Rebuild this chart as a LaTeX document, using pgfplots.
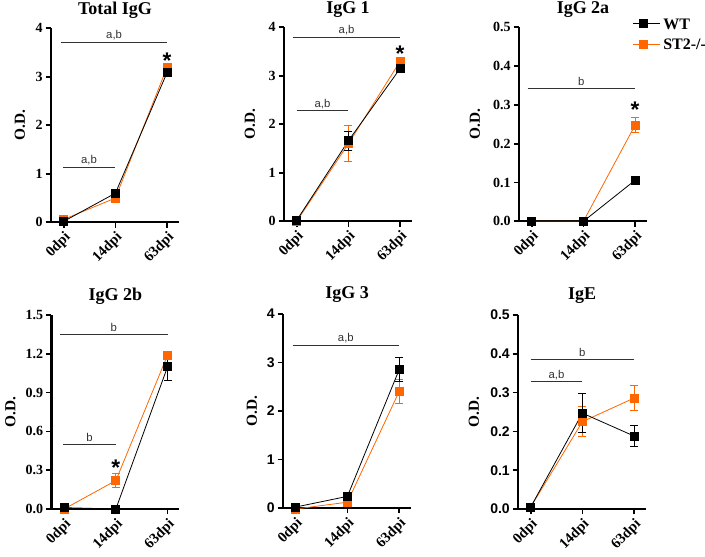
\documentclass[border=0pt]{standalone}
\usepackage{fontspec}
\setmainfont{Liberation Serif}
\newfontfamily\arial{Liberation Sans}
\usepackage{pgfplots}
\pgfplotsset{compat=1.18}
\usetikzlibrary{arrows.meta}
\definecolor{org}{RGB}{255,102,0}
\definecolor{brk}{RGB}{50,50,50}

\pgfplotsset{
 panel/.style={
  scale only axis, width=96pt, height=145.5pt, anchor=south west,
  axis x line=bottom, axis y line=left, axis line style={-, line width=1.6pt},
  xmin=-0.245, xmax=2.23, ymin=0,
  xtick={0,1,2}, xticklabels={0dpi,14dpi,63dpi},
  tick align=outside, major tick length=4pt, tick style={line width=1.3pt, black},
  xticklabel style={rotate=45, anchor=north east, font=\bfseries\fontsize{11}{11}\selectfont, inner sep=1.5pt},
  yticklabel style={font=\bfseries\fontsize{10.5}{10}\selectfont, inner sep=2pt},
  /pgf/number format/assume math mode=true,
  ylabel={O.D.}, ylabel style={font=\bfseries\fontsize{11.5}{12}\selectfont, at={(axis description cs:-0.25,0.5)}, anchor=center},
  every axis title/.style={font=\bfseries\fontsize{13.5}{14}\selectfont, at={(axis description cs:0.5,1)}, anchor=center, yshift=13.5pt},
  clip=false,
 },
 dec/.style={/pgf/number format/fixed, /pgf/number format/fixed zerofill, /pgf/number format/precision=1},
 wt/.style={black, line width=0.6pt, mark=square*, mark size=3pt, mark options={black, solid},
   error bars/.cd, y dir=both, y explicit, error bar style={line width=0.8pt, black}, error mark options={rotate=90, mark size=3pt, line width=0.8pt, black}},
 st/.style={org, line width=0.6pt, mark=square*, mark size=3pt, mark options={org, solid},
   error bars/.cd, y dir=both, y explicit, error bar style={line width=0.8pt, org}, error mark options={rotate=90, mark size=3pt, line width=0.8pt, org}},
 brk/.style={draw=brk, line width=1pt, {Bar[width=5pt]}-{Bar[width=5pt]}},
}
\newcommand\blab{\arial\fontsize{8.5}{9}\selectfont}
\newcommand\starfont{\arial\bfseries\fontsize{17}{17}\selectfont}

\begin{document}
\begin{tikzpicture}
\useasboundingbox (0,0) rectangle (528.75pt,417pt);

% Total IgG
\begin{axis}[panel, at={(38.25pt,250.25pt)}, ymax=4, ytick={0,1,2,3,4}, title={Total IgG},
  ylabel style={at={(axis description cs:-0.242,0.5)}}]
\addplot[st] coordinates {(0,0.06) (1,0.5) (2,3.2)};
\addplot[wt] coordinates {(0,0.02) (1,0.6) (2,3.09)};
\draw[brk] (axis cs:-0.05,3.72) -- (axis cs:2,3.72) node[midway, above=0pt, inner sep=1.5pt, text=brk, font=\blab] {a,b};
\draw[brk] (axis cs:-0.02,1.14) -- (axis cs:1,1.14) node[midway, above=0pt, inner sep=1.5pt, text=brk, font=\blab] {a,b};
\node[font=\starfont, anchor=base, yshift=-9.5pt] at (axis cs:2,3.43) {*};
\end{axis}

% IgG 1
\begin{axis}[panel, at={(213pt,251pt)}, ymax=4, ytick={0,1,2,3,4}, title={IgG 1},
  ylabel style={at={(axis description cs:-0.266,0.5)}}]
\addplot[st] coordinates {(0,0.0) (1,1.6) +- (0,0.37) (2,3.3)};
\addplot[wt] coordinates {(0,0.02) (1,1.66) +- (0,0.2) (2,3.15)};
\draw[brk] (axis cs:-0.07,3.8) -- (axis cs:2,3.8) node[midway, above=0pt, inner sep=1.5pt, text=brk, font=\blab] {a,b};
\draw[brk] (axis cs:0,2.28) -- (axis cs:1,2.28) node[midway, above=0pt, inner sep=1.5pt, text=brk, font=\blab] {a,b};
\node[font=\starfont, anchor=base, yshift=-9.5pt] at (axis cs:2,3.55) {*};
\end{axis}

% IgG 2a
\begin{axis}[panel, at={(389.25pt,251pt)}, ymax=0.5, ytick={0,0.1,0.2,0.3,0.4,0.5}, yticklabel style={dec}, title={IgG 2a},
  ylabel style={at={(axis description cs:-0.344,0.5)}},
  reverse legend, legend cell align=left,
  legend style={at={(rel axis cs:0.885,1.06)}, anchor=north west, draw=none, fill=none, font=\bfseries\fontsize{12}{12}\selectfont, row sep=3.5pt, inner sep=0pt,
    nodes={inner sep=2pt, text depth=0pt}},
  legend image code/.code={\draw[mark repeat=2,mark phase=2] plot coordinates {(0cm,0cm) (0.27cm,0cm) (0.54cm,0cm)}; \path (0.54cm,0) -- (0.72cm,0);}]
\addplot[st] coordinates {(0,0) (1,0) (2,0.248) +- (0,0.02)};
\addlegendentry{ST2-/-}
\addplot[wt] coordinates {(0,0) (1,0) (2,0.106)};
\addlegendentry{WT}
\draw[brk] (axis cs:-0.08,0.343) -- (axis cs:2,0.343) node[midway, above=0pt, inner sep=1.5pt, text=brk, font=\blab] {b};
\node[font=\starfont, anchor=base, yshift=-9.5pt] at (axis cs:2,0.30) {*};
\end{axis}

% IgG 2b
\begin{axis}[panel, at={(38.6pt,35.25pt)}, ymax=1.5, ytick={0,0.3,0.6,0.9,1.2,1.5}, yticklabel style={dec}, title={IgG 2b},
  every axis title/.append style={yshift=0.75pt},
  ylabel style={at={(axis description cs:-0.32,0.5)}}]
\addplot[st] coordinates {(0,0.0) (1,0.22) +- (0,0.055) (2,1.19) +- (0,0.03)};
\addplot[wt] coordinates {(0,0.01) (1,0.0) (2,1.10) +- (0,0.11)};
\draw[brk] (axis cs:-0.08,1.353) -- (axis cs:2,1.353) node[midway, above=0pt, inner sep=1.5pt, text=brk, font=\blab] {b};
\draw[brk] (axis cs:-0.02,0.50) -- (axis cs:1,0.50) node[midway, above=0pt, inner sep=1.5pt, text=brk, font=\blab] {b};
\node[font=\starfont, anchor=base, yshift=-9.5pt] at (axis cs:1,0.36) {*};
\end{axis}

% IgG 3
\begin{axis}[panel, at={(212.25pt,36pt)}, ymax=4, ytick={0,1,2,3,4}, title={IgG 3},
  every axis title/.append style={yshift=0.75pt},
  yticklabel style={font=\arial\bfseries\fontsize{10.5}{10}\selectfont},
  ylabel style={at={(axis description cs:-0.242,0.5)}}]
\addplot[st] coordinates {(0,-0.02) (1,0.12) (2,2.40) +- (0,0.24)};
\addplot[wt] coordinates {(0,0.02) (1,0.24) (2,2.85) +- (0,0.25)};
\draw[brk] (axis cs:-0.06,3.35) -- (axis cs:2,3.35) node[midway, above=0pt, inner sep=1.5pt, text=brk, font=\blab] {a,b};
\end{axis}

% IgE
\begin{axis}[panel, at={(388.5pt,35.25pt)}, ymax=0.5, ytick={0,0.1,0.2,0.3,0.4,0.5}, title={IgE},
  every axis title/.append style={yshift=0.75pt},
  yticklabel style={font=\arial\bfseries\fontsize{10.5}{10}\selectfont, dec},
  ylabel style={at={(axis description cs:-0.344,0.5)}}]
\addplot[st] coordinates {(0,0.005) (1,0.225) +- (0,0.038) (2,0.286) +- (0,0.033)};
\addplot[wt] coordinates {(0,0.005) (1,0.247) +- (0,0.05) (2,0.188) +- (0,0.027)};
\draw[brk] (axis cs:0,0.387) -- (axis cs:2,0.387) node[midway, above=0pt, inner sep=1.5pt, text=brk, font=\blab] {b};
\draw[brk] (axis cs:0,0.328) -- (axis cs:1,0.328) node[midway, above=0pt, inner sep=1.5pt, text=brk, font=\blab] {a,b};
\end{axis}
\end{tikzpicture}
\end{document}
